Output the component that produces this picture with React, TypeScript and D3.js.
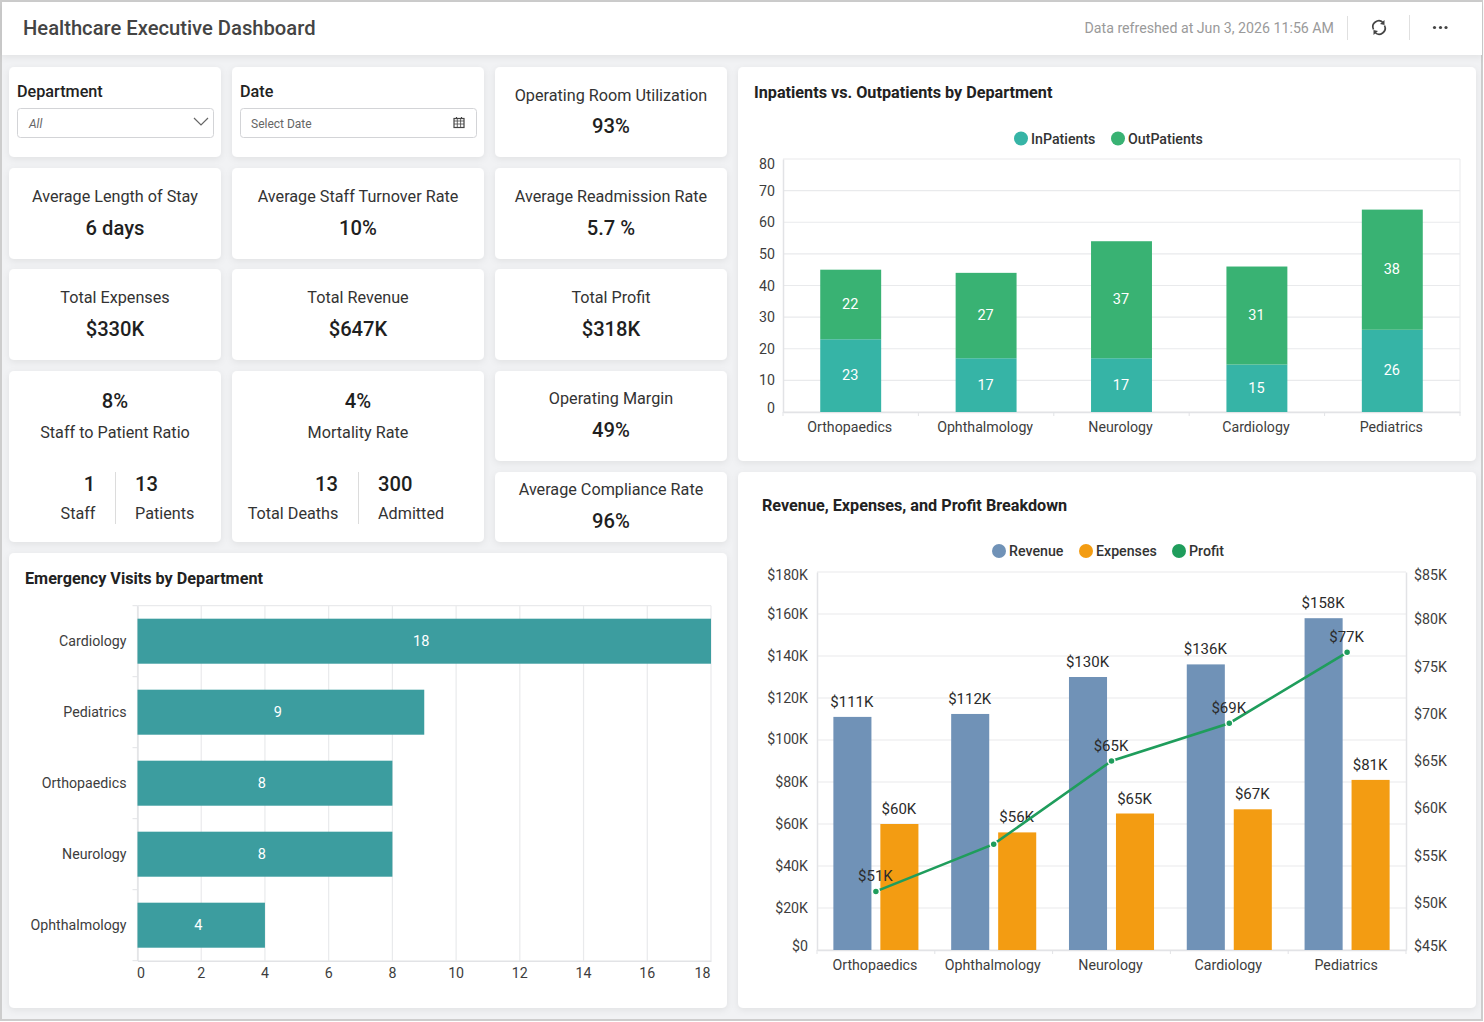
import React, { useEffect, useRef } from 'react';
import * as d3 from 'd3';

const FONT = 'Roboto, sans-serif';

// Inpatients vs. outpatients
const patientDepartments = ['Orthopaedics', 'Ophthalmology', 'Neurology', 'Cardiology', 'Pediatrics'];
const inPatients = [23, 17, 17, 15, 26];
const outPatients = [22, 27, 37, 31, 38];
const patientTicks = [0, 10, 20, 30, 40, 50, 60, 70, 80];

// Revenue, expenses, profit (values in $K)
const financeDepartments = ['Orthopaedics', 'Ophthalmology', 'Neurology', 'Cardiology', 'Pediatrics'];
const revenue = [111, 112.4, 130, 136, 158];
const expenses = [60, 56, 65, 67, 81];
const profit = [51.2, 56.2, 65, 69, 76.5];
// the Ophthalmology point has no label of its own in the picture
const profitLabels = ['$51K', '', '$65K', '$69K', '$77K'];
const moneyTicks = [0, 20, 40, 60, 80, 100, 120, 140, 160, 180];
const profitTicks = [45, 50, 55, 60, 65, 70, 75, 80, 85];

// Emergency visits
const emergencyDepartments = ['Cardiology', 'Pediatrics', 'Orthopaedics', 'Neurology', 'Ophthalmology'];
const emergencyVisits = [18, 9, 8, 8, 4];
const emergencyTicks = [0, 2, 4, 6, 8, 10, 12, 14, 16, 18];

const GRID = '#e9eaec';
const AXIS = '#e2e3e6';
const TICK_TEXT = '#3d3d3d';

function styleAxis(g: d3.Selection<SVGGElement, unknown, null, undefined>, fontSize = 14.2) {
  g.selectAll('.domain').attr('stroke', AXIS).attr('stroke-width', 1.5);
  g.selectAll('.tick line').attr('stroke', AXIS);
  g.selectAll('.tick text')
    .attr('fill', TICK_TEXT)
    .attr('font-family', FONT)
    .attr('font-size', fontSize);
}

function legend(
  g: d3.Selection<SVGGElement, unknown, null, undefined>,
  items: { label: string; color: string; x: number }[],
  y: number
) {
  items.forEach(it => {
    g.append('circle').attr('cx', it.x).attr('cy', y).attr('r', 7).attr('fill', it.color);
    g.append('text')
      .attr('x', it.x + 10)
      .attr('y', y + 5)
      .attr('font-family', FONT)
      .attr('font-size', 14.2)
      .attr('font-weight', 500)
      .attr('fill', '#333')
      .text(it.label);
  });
}

function drawPatients(node: SVGGElement) {
  const g = d3.select(node);
  const left = 783, right = 1460, top = 159, bottom = 412;
  const x = d3.scaleBand().domain(patientDepartments).range([left, right]).paddingInner(0.55).paddingOuter(0.275);
  const y = d3.scaleLinear().domain([0, 80]).range([bottom, top]);

  g.append('g').selectAll('line').data(patientTicks).enter().append('line')
    .attr('x1', left).attr('x2', right)
    .attr('y1', d => y(d)).attr('y2', d => y(d))
    .attr('stroke', GRID).attr('stroke-width', 1.2);
  g.append('line').attr('x1', right).attr('x2', right).attr('y1', top).attr('y2', bottom).attr('stroke', GRID);

  const yAxis = g.append('g').attr('transform', `translate(${left},0)`)
    .call(d3.axisLeft(y).tickValues(patientTicks).tickSize(0).tickPadding(8));
  styleAxis(yAxis);
  yAxis.selectAll<SVGTextElement, number>('.tick text')
    .attr('dy', d => (d === 80 ? '0.65em' : d === 0 ? '0.05em' : '0.32em'));

  const xAxis = g.append('g').attr('transform', `translate(0,${bottom})`)
    .call(d3.axisBottom(x).tickSize(0).tickPadding(9));
  styleAxis(xAxis);
  const step = x.step();
  xAxis.selectAll('.tick text').attr('dy', '0.78em').attr('dx', -1);
  g.append('g').selectAll('line').data(d3.range(6)).enter().append('line')
    .attr('x1', d => left + d * step).attr('x2', d => left + d * step)
    .attr('y1', bottom).attr('y2', bottom + 4).attr('stroke', AXIS);

  const series = [
    { values: inPatients, base: patientDepartments.map(() => 0), color: '#36b4a6' },
    { values: outPatients, base: inPatients, color: '#39b273' },
  ];
  series.forEach(s => {
    patientDepartments.forEach((dep, i) => {
      const y0 = y(s.base[i]);
      const y1 = y(s.base[i] + s.values[i]);
      g.append('rect')
        .attr('x', x(dep)!).attr('width', x.bandwidth())
        .attr('y', y1).attr('height', y0 - y1)
        .attr('fill', s.color);
      g.append('text')
        .attr('x', x(dep)! + x.bandwidth() / 2 - 0.5)
        .attr('y', (y0 + y1) / 2 + 4.5)
        .attr('text-anchor', 'middle')
        .attr('font-family', FONT).attr('font-size', 14.5)
        .attr('fill', '#fff')
        .text(s.values[i]);
    });
  });

  legend(g as any, [
    { label: 'InPatients', color: '#36b4a6', x: 1021 },
    { label: 'OutPatients', color: '#39b273', x: 1118 },
  ], 138.5);
}

function drawFinance(node: SVGGElement) {
  const g = d3.select(node);
  const left = 817, right = 1406, top = 572, bottom = 950;
  const p = 0.278;
  const x0 = d3.scaleBand().domain(financeDepartments).range([left, right]).paddingInner(p).paddingOuter(p / 2);
  const x1 = d3.scaleBand().domain(['revenue', 'expenses']).range([0, x0.bandwidth()]).paddingInner(0.19);
  const y = d3.scaleLinear().domain([0, 180]).range([bottom, top]);
  const yR = d3.scaleLinear().domain([45, 85]).range([bottom, top]);

  g.append('g').selectAll('line').data(moneyTicks).enter().append('line')
    .attr('x1', left).attr('x2', right)
    .attr('y1', d => y(d)).attr('y2', d => y(d))
    .attr('stroke', GRID).attr('stroke-width', 1.2);

  const yAxis = g.append('g').attr('transform', `translate(${left},0)`)
    .call(d3.axisLeft(y).tickValues(moneyTicks).tickFormat(d => `$${d}K`.replace('$0K', '$0')).tickSize(0).tickPadding(9));
  styleAxis(yAxis);
  yAxis.selectAll<SVGTextElement, number>('.tick text')
    .attr('dy', d => (d === 180 ? '0.55em' : d === 0 ? '0.05em' : d === 100 ? '0.26em' : '0.32em'));

  const yRAxis = g.append('g').attr('transform', `translate(${right},0)`)
    .call(d3.axisRight(yR).tickValues(profitTicks).tickFormat(d => `$${d}K`).tickSize(0).tickPadding(8));
  styleAxis(yRAxis);
  yRAxis.selectAll<SVGTextElement, number>('.tick text')
    .attr('dy', d => (d === 85 ? '0.55em' : d === 45 ? '0.02em' : '0.32em'));

  const xAxis = g.append('g').attr('transform', `translate(0,${bottom})`)
    .call(d3.axisBottom(x0).tickSize(0).tickPadding(9));
  styleAxis(xAxis);
  xAxis.selectAll('.tick text').attr('dy', '0.8em').attr('dx', -1);
  const step = x0.step();
  g.append('g').selectAll('line').data(d3.range(6)).enter().append('line')
    .attr('x1', d => left + d * step).attr('x2', d => left + d * step)
    .attr('y1', bottom).attr('y2', bottom + 4).attr('stroke', AXIS);

  const barLabel = (tx: number, ty: number, text: string) =>
    g.append('text')
      .attr('x', tx - 0.5).attr('y', ty)
      .attr('text-anchor', 'middle')
      .attr('font-family', FONT).attr('font-size', 15)
      .attr('fill', '#2b2b2b')
      .text(text);

  financeDepartments.forEach((dep, i) => {
    const gx = x0(dep)!;
    g.append('rect')
      .attr('x', gx + x1('revenue')!).attr('width', x1.bandwidth())
      .attr('y', y(revenue[i])).attr('height', bottom - y(revenue[i]))
      .attr('fill', '#7092b7');
    g.append('rect')
      .attr('x', gx + x1('expenses')!).attr('width', x1.bandwidth())
      .attr('y', y(expenses[i])).attr('height', bottom - y(expenses[i]))
      .attr('fill', '#f39c12');
    barLabel(gx + x1('revenue')! + x1.bandwidth() / 2, y(revenue[i]) - 10, `$${Math.round(revenue[i])}K`);
    barLabel(gx + x1('expenses')! + x1.bandwidth() / 2, y(expenses[i]) - 10, `$${expenses[i]}K`);
  });

  const cx = (i: number) => x0(financeDepartments[i])! + x0.bandwidth() / 2;
  const line = d3.line<number>().x((_, i) => cx(i)).y(d => yR(d));
  g.append('path').attr('d', line(profit)!).attr('fill', 'none').attr('stroke', '#1f9d5c').attr('stroke-width', 2.6);
  profit.forEach((d, i) => {
    g.append('circle').attr('cx', cx(i)).attr('cy', yR(d)).attr('r', 3.5)
      .attr('fill', '#1f9d5c').attr('stroke', '#fff').attr('stroke-width', 1.5);
    if (profitLabels[i]) barLabel(cx(i), yR(d) - 10, profitLabels[i]);
  });

  legend(g as any, [
    { label: 'Revenue', color: '#7092b7', x: 999 },
    { label: 'Expenses', color: '#f39c12', x: 1086 },
    { label: 'Profit', color: '#1f9d5c', x: 1179 },
  ], 551);
}

function drawEmergency(node: SVGGElement) {
  const g = d3.select(node);
  const left = 137.5, right = 711, top = 605.7, bottom = 960.7;
  const x = d3.scaleLinear().domain([0, 18]).range([left, right]);
  const y = d3.scaleBand().domain(emergencyDepartments).range([top, bottom]).paddingInner(0.366).paddingOuter(0.183);

  g.append('g').selectAll('line').data(emergencyTicks).enter().append('line')
    .attr('x1', d => x(d)).attr('x2', d => x(d))
    .attr('y1', top).attr('y2', bottom)
    .attr('stroke', GRID).attr('stroke-width', 1.2);
  g.append('line').attr('x1', left).attr('x2', right).attr('y1', top).attr('y2', top).attr('stroke', GRID).attr('stroke-width', 1.2);

  const yAxis = g.append('g').attr('transform', `translate(${left},0)`)
    .call(d3.axisLeft(y).tickSize(0).tickPadding(11));
  styleAxis(yAxis);
  const step = y.step();
  g.append('g').selectAll('line').data(d3.range(6)).enter().append('line')
    .attr('x1', left - 5).attr('x2', left)
    .attr('y1', d => top + d * step).attr('y2', d => top + d * step)
    .attr('stroke', AXIS);

  const xAxis = g.append('g').attr('transform', `translate(0,${bottom})`)
    .call(d3.axisBottom(x).tickValues(emergencyTicks).tickSize(0).tickPadding(7));
  styleAxis(xAxis);
  xAxis.selectAll<SVGTextElement, number>('.tick text')
    .attr('dx', d => (d === 0 ? 3 : d === 18 ? -9 : -0.5));

  emergencyDepartments.forEach((dep, i) => {
    g.append('rect')
      .attr('x', x(0)).attr('y', y(dep)!)
      .attr('width', x(emergencyVisits[i]) - x(0)).attr('height', y.bandwidth())
      .attr('fill', '#3c9d9f');
    g.append('text')
      .attr('x', x(emergencyVisits[i] / 2) - 3)
      .attr('y', y(dep)! + y.bandwidth() / 2 + 5)
      .attr('text-anchor', 'middle')
      .attr('font-family', FONT).attr('font-size', 14.5)
      .attr('fill', '#fff')
      .text(emergencyVisits[i]);
  });
}

const Card = ({ x, y, w, h }: { x: number; y: number; w: number; h: number }) => (
  <rect x={x} y={y} width={w} height={h} rx={5} fill="#fff" filter="url(#cardShadow)" />
);

const Txt = ({ x, y, size = 16.2, weight = 400, fill = '#333', anchor = 'middle', italic = false, children }: any) => (
  <text x={x} y={y} fontFamily={FONT} fontSize={size} fontWeight={weight} fill={fill} textAnchor={anchor} fontStyle={italic ? 'italic' : 'normal'}>
    {children}
  </text>
);

// title + value tile
const Kpi = ({ x, y, w, h, title, value, titleY = 34, valueY = 67 }: { x: number; y: number; w: number; h: number; title: string; value: string; titleY?: number; valueY?: number }) => (
  <g>
    <Card x={x} y={y} w={w} h={h} />
    <Txt x={x + w / 2} y={y + titleY}>{title}</Txt>
    <Txt x={x + w / 2} y={y + valueY} size={20.2} weight={500} fill="#1f1f1f">{value}</Txt>
  </g>
);

const ChartGroup = ({ draw }: { draw: (n: SVGGElement) => void }) => {
  const ref = useRef<SVGGElement>(null);
  useEffect(() => {
    if (!ref.current) return;
    d3.select(ref.current).selectAll('*').remove();
    draw(ref.current);
  }, [draw]);
  return <g ref={ref} />;
};

export default function App() {
  return (
    <svg width={1484} height={1022} style={{ position: 'absolute', left: 0, top: 0, display: 'block' }}>
      <defs>
        <filter id="cardShadow" x="-10%" y="-10%" width="120%" height="125%">
          <feDropShadow dx="0" dy="2" stdDeviation="3.5" floodColor="#000" floodOpacity="0.07" />
        </filter>
      </defs>
      <rect x={0} y={0} width={1484} height={1022} fill="#fff" />
      <rect x={1} y={1} width={1481} height={1019} fill="#f1f2f4" stroke="#cdcdcd" strokeWidth={2} />

      {/* header */}
      <rect x={2} y={2} width={1480} height={53} fill="#fff" filter="url(#cardShadow)" />
      <Txt x={23} y={34.5} size={20.2} weight={500} fill="#444" anchor="start">Healthcare Executive Dashboard</Txt>
      <Txt x={1334} y={33} size={14.2} fill="#9a9a9a" anchor="end">Data refreshed at Jun 3, 2026 11:56 AM</Txt>
      <line x1={1347.5} x2={1347.5} y1={16} y2={40} stroke="#e0e0e0" />
      <line x1={1409.5} x2={1409.5} y1={15} y2={40} stroke="#e0e0e0" />
      <g fill="none" stroke="#444" strokeWidth={1.7}>
        <path d="M1373.5 29.5 A6 6 0 0 1 1383 22.5" />
        <path d="M1384.5 25.5 A6 6 0 0 1 1375 32.5" />
      </g>
      <path d="M1384.5 20 L1384.5 25 L1380 24 Z M1373.5 35 L1373.5 30 L1378 31 Z" fill="#444" />
      <g fill="#444">
        <circle cx={1434.5} cy={27.5} r={1.6} />
        <circle cx={1440.5} cy={27.5} r={1.6} />
        <circle cx={1446} cy={27.5} r={1.6} />
      </g>

      {/* filters */}
      <Card x={9} y={67} w={212} h={90} />
      <Txt x={17} y={97} weight={500} fill="#222" anchor="start">Department</Txt>
      <rect x={17.5} y={108.5} width={196} height={29} rx={3} fill="#fff" stroke="#d3d4d7" />
      <Txt x={29} y={127.5} size={12} fill="#666" anchor="start" italic>All</Txt>
      <path d="M194 118 L201 125 L208 118" fill="none" stroke="#666" strokeWidth={1.2} />

      <Card x={232} y={67} w={252} h={90} />
      <Txt x={240} y={97} weight={500} fill="#222" anchor="start">Date</Txt>
      <rect x={240.5} y={108.5} width={236} height={29} rx={3} fill="#fff" stroke="#d3d4d7" />
      <Txt x={251} y={127.5} size={12} fill="#666" anchor="start">Select Date</Txt>
      <g fill="none" stroke="#444">
        <rect x={454} y={118.5} width={10} height={9} strokeWidth={1.2} />
        <path d="M454 121 H464 M454 124 H464 M457.3 119 V127 M460.6 119 V127" strokeWidth={0.8} />
        <path d="M456.5 117 V119 M461.5 117 V119" strokeWidth={1.2} />
      </g>

      {/* tiles */}
      <Kpi x={495} y={67} w={232} h={90} title="Operating Room Utilization" value="93%" valueY={66} />
      <Kpi x={9} y={168} w={212} h={91} title="Average Length of Stay" value="6 days" />
      <Kpi x={232} y={168} w={252} h={91} title="Average Staff Turnover Rate" value="10%" />
      <Kpi x={495} y={168} w={232} h={91} title="Average Readmission Rate" value="5.7 %" />
      <Kpi x={9} y={269} w={212} h={91} title="Total Expenses" value="$330K" />
      <Kpi x={232} y={269} w={252} h={91} title="Total Revenue" value="$647K" />
      <Kpi x={495} y={269} w={232} h={91} title="Total Profit" value="$318K" />
      <Kpi x={495} y={371} w={232} h={90} title="Operating Margin" value="49%" titleY={33} valueY={66} />
      <Kpi x={495} y={472} w={232} h={70} title="Average Compliance Rate" value="96%" titleY={23} valueY={56} />

      <Card x={9} y={371} w={212} h={171} />
      <Txt x={115} y={408} size={20.2} weight={500} fill="#1f1f1f">8%</Txt>
      <Txt x={115} y={438}>Staff to Patient Ratio</Txt>
      <Txt x={89.5} y={491} size={20.2} weight={500} fill="#1f1f1f">1</Txt>
      <Txt x={78} y={519}>Staff</Txt>
      <line x1={115.5} x2={115.5} y1={472} y2={524} stroke="#dcdcdc" />
      <Txt x={135} y={491} size={20.2} weight={500} fill="#1f1f1f" anchor="start">13</Txt>
      <Txt x={135} y={519} anchor="start">Patients</Txt>

      <Card x={232} y={371} w={252} h={171} />
      <Txt x={358} y={408} size={20.2} weight={500} fill="#1f1f1f">4%</Txt>
      <Txt x={358} y={438}>Mortality Rate</Txt>
      <Txt x={338} y={491} size={20.2} weight={500} fill="#1f1f1f" anchor="end">13</Txt>
      <Txt x={293} y={519}>Total Deaths</Txt>
      <line x1={358.5} x2={358.5} y1={472} y2={524} stroke="#dcdcdc" />
      <Txt x={378} y={491} size={20.2} weight={500} fill="#1f1f1f" anchor="start">300</Txt>
      <Txt x={378} y={519} anchor="start">Admitted</Txt>

      {/* chart cards */}
      <Card x={738} y={67} w={738} h={394} />
      <Txt x={754} y={98} weight={700} fill="#222" anchor="start">Inpatients vs. Outpatients by Department</Txt>
      <ChartGroup draw={drawPatients} />

      <Card x={738} y={472} w={738} h={536} />
      <Txt x={762} y={511} weight={700} fill="#222" anchor="start">Revenue, Expenses, and Profit Breakdown</Txt>
      <ChartGroup draw={drawFinance} />

      <Card x={9} y={553} w={718} h={455} />
      <Txt x={25} y={584} weight={700} fill="#222" anchor="start">Emergency Visits by Department</Txt>
      <ChartGroup draw={drawEmergency} />
    </svg>
  );
}
